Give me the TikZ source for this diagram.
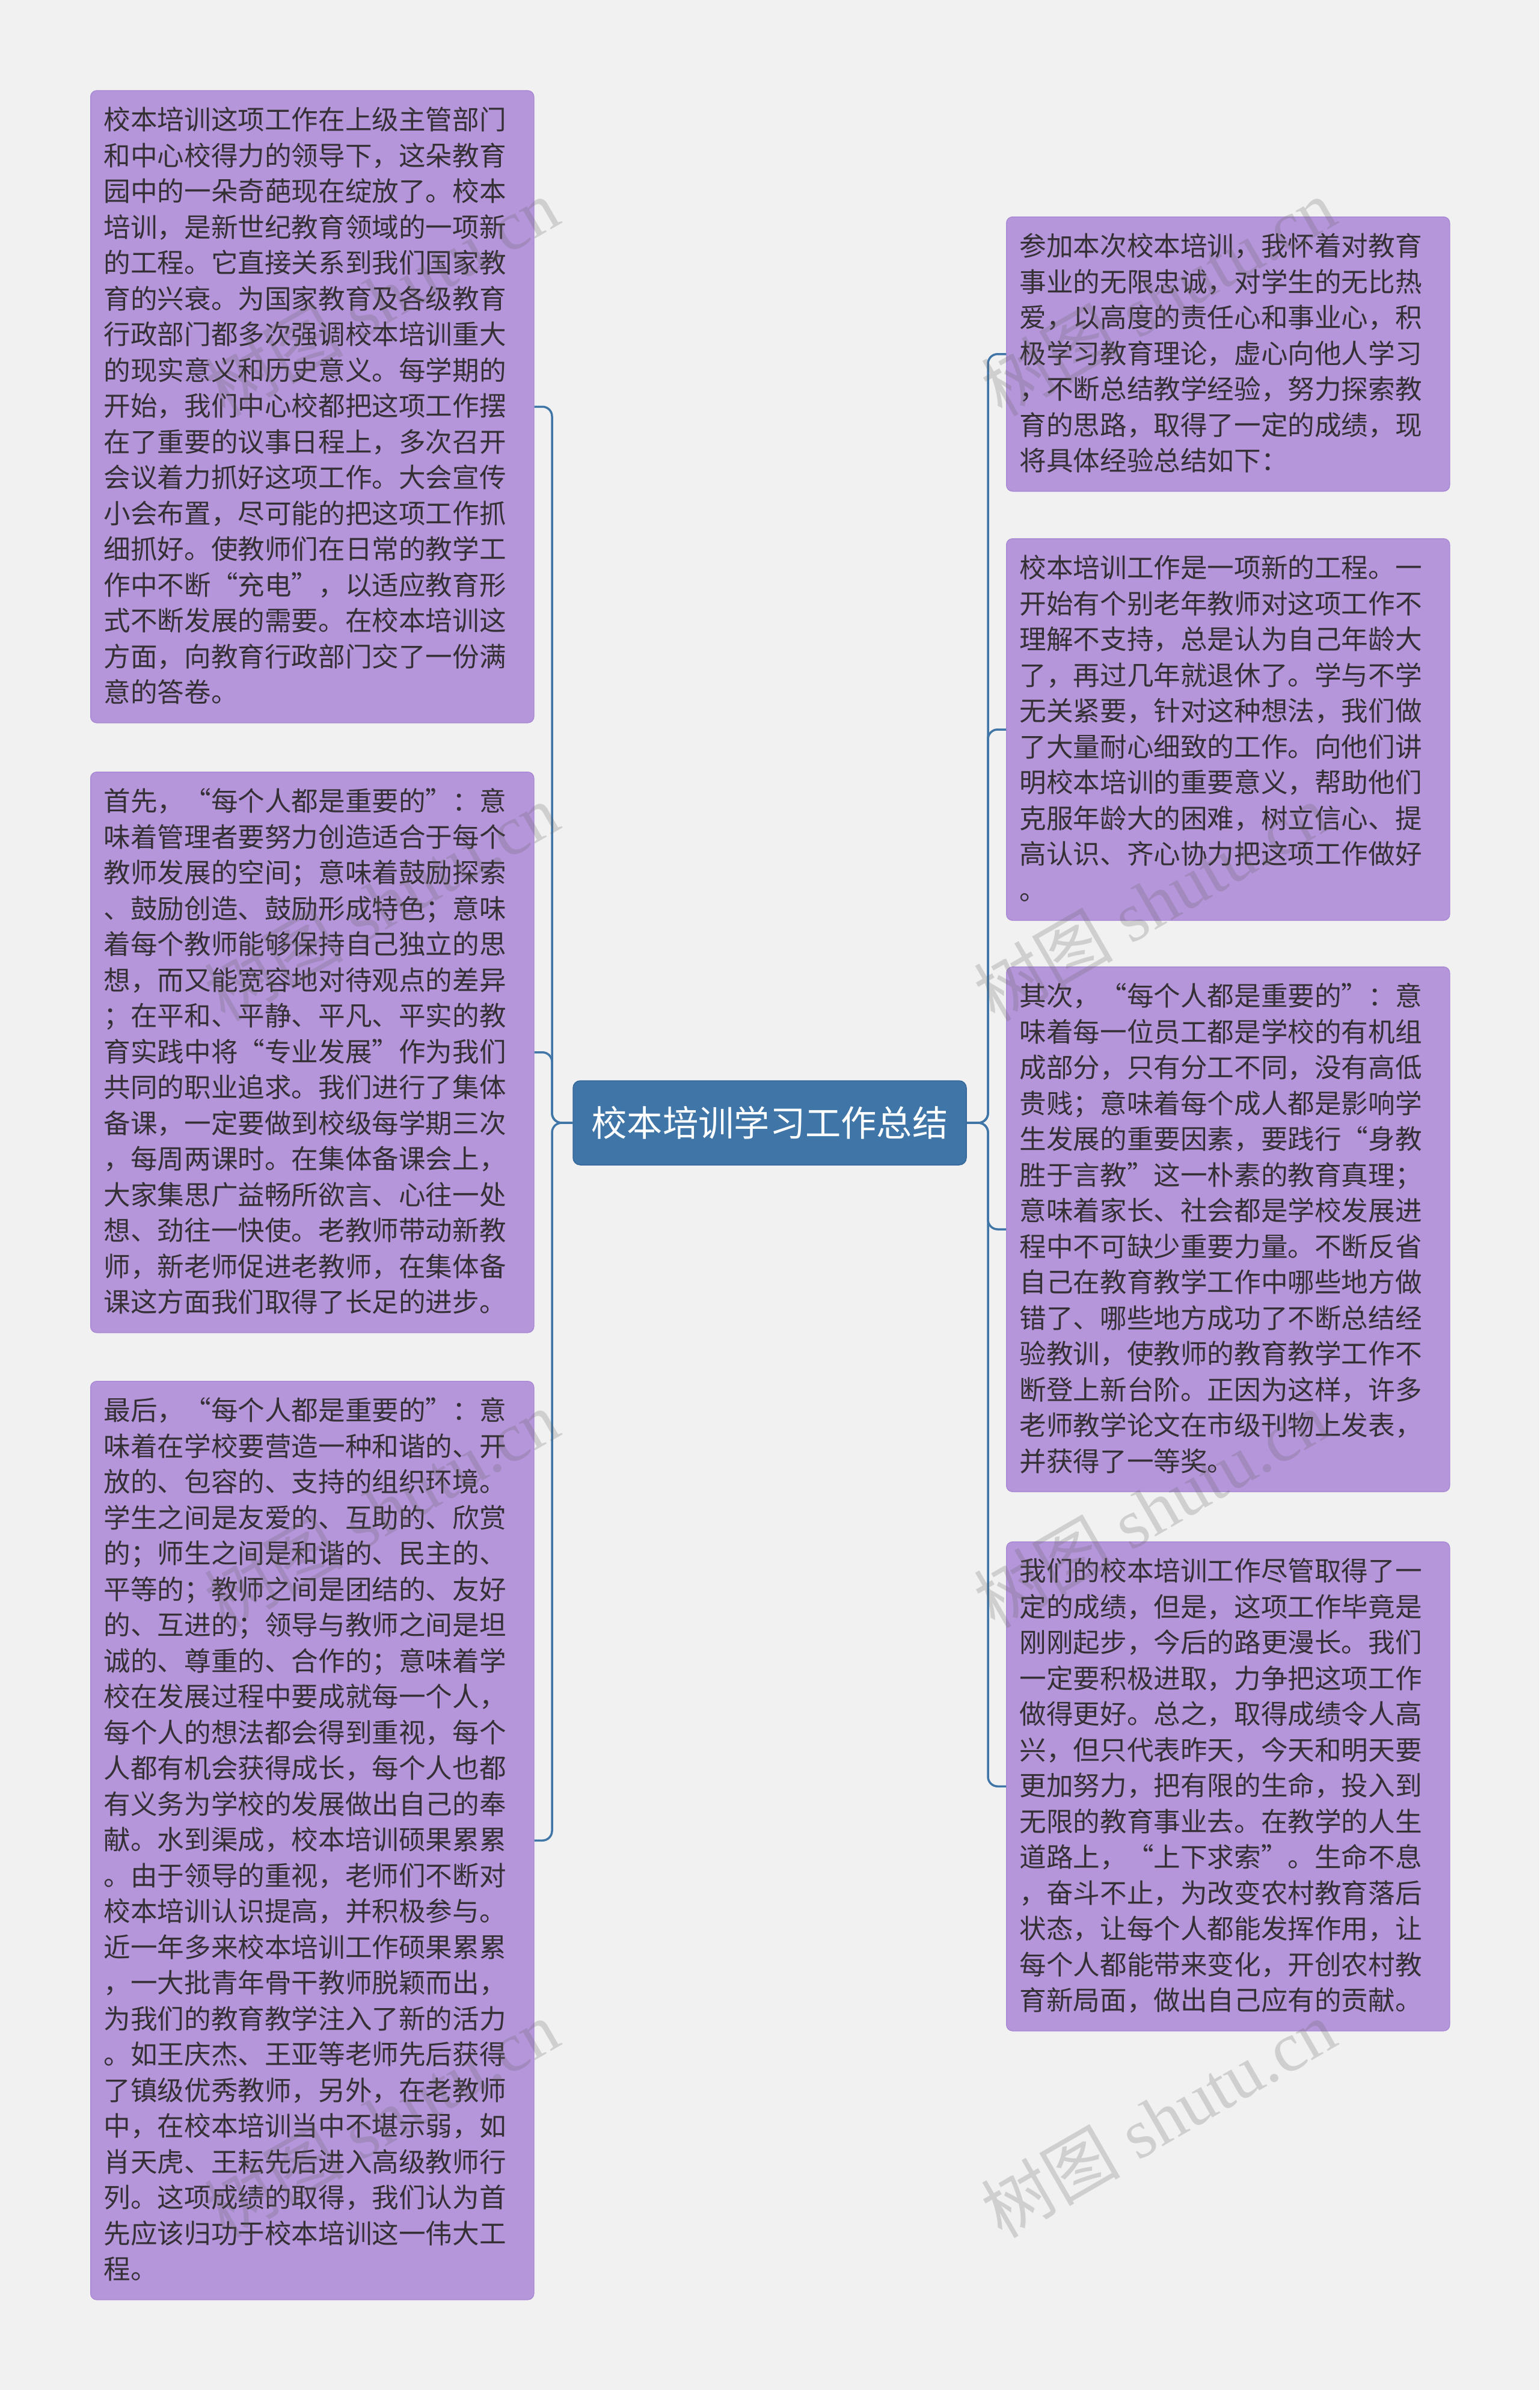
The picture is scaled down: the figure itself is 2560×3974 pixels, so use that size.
\documentclass[tikz,border=0pt]{standalone}
\usepackage{fontspec}
\setmainfont{Noto Sans CJK SC}
\newfontfamily\cjk{Noto Sans CJK SC}
\newfontfamily\wmserif{Liberation Serif}
\definecolor{bgc}{HTML}{F1F1F1}
\definecolor{leaffill}{HTML}{B696DB}
\definecolor{leafline}{HTML}{A98AD4}
\definecolor{rootfill}{HTML}{3F75A7}
\definecolor{rootline}{HTML}{36679A}
\definecolor{connc}{HTML}{3F75A7}
\definecolor{txt}{HTML}{353035}
\newcommand\leaffont{\cjk\fontsize{44.6pt}{59.5pt}\selectfont}
\newcommand\fs{\rule{0pt}{45pt}}
\newcommand\ls{\rule[-14pt]{0pt}{14pt}}
\begin{document}
\begin{tikzpicture}[x=1pt,y=-1pt,
  leaf/.style={draw=leafline, fill=leaffill, line width=1.5pt, rounded corners=10pt,
    inner xsep=22pt, inner ysep=20pt, text width=693pt, align=left,
    anchor=north west, text=txt, font=\leaffont},
  rootbox/.style={draw=rootline, fill=rootfill, line width=1.5pt, rounded corners=12pt,
    minimum width=654pt, minimum height=140pt, inner sep=0pt, text=white,
    font=\cjk\fontsize{59.3pt}{70pt}\selectfont},
  conn/.style={draw=connc, line width=3.5pt, rounded corners=16pt},
  wm/.style={rotate=30, text=black!60, opacity=0.24, font=\wmserif\fontsize{116pt}{124pt}\selectfont}]
\useasboundingbox (0,0) rectangle (2560,3974);
\fill[bgc] (0,0) rectangle (2560,3974);

\node[rootbox] (root) at (1280,1867) {校本培训学习工作总结};

\node[leaf] (l1) at (150,150) {\fs 校本培训这项工作在上级主管部门\\和中心校得力的领导下，这朵教育\\园中的一朵奇葩现在绽放了。校本\\培训，是新世纪教育领域的一项新\\的工程。它直接关系到我们国家教\\育的兴衰。为国家教育及各级教育\\行政部门都多次强调校本培训重大\\的现实意义和历史意义。每学期的\\开始，我们中心校都把这项工作摆\\在了重要的议事日程上，多次召开\\会议着力抓好这项工作。大会宣传\\小会布置，尽可能的把这项工作抓\\细抓好。使教师们在日常的教学工\\作中不断“充电”，以适应教育形\\式不断发展的需要。在校本培训这\\方面，向教育行政部门交了一份满\\意的答卷。\ls};

\node[leaf] (l2) at (150,1283) {\fs 首先，“每个人都是重要的”：意\\味着管理者要努力创造适合于每个\\教师发展的空间；意味着鼓励探索\\、鼓励创造、鼓励形成特色；意味\\着每个教师能够保持自己独立的思\\想，而又能宽容地对待观点的差异\\；在平和、平静、平凡、平实的教\\育实践中将“专业发展”作为我们\\共同的职业追求。我们进行了集体\\备课，一定要做到校级每学期三次\\，每周两课时。在集体备课会上，\\大家集思广益畅所欲言、心往一处\\想、劲往一快使。老教师带动新教\\师，新老师促进老教师，在集体备\\课这方面我们取得了长足的进步。\ls};

\node[leaf] (l3) at (150,2296) {\fs 最后，“每个人都是重要的”：意\\味着在学校要营造一种和谐的、开\\放的、包容的、支持的组织环境。\\学生之间是友爱的、互助的、欣赏\\的；师生之间是和谐的、民主的、\\平等的；教师之间是团结的、友好\\的、互进的；领导与教师之间是坦\\诚的、尊重的、合作的；意味着学\\校在发展过程中要成就每一个人，\\每个人的想法都会得到重视，每个\\人都有机会获得成长，每个人也都\\有义务为学校的发展做出自己的奉\\献。水到渠成，校本培训硕果累累\\。由于领导的重视，老师们不断对\\校本培训认识提高，并积极参与。\\近一年多来校本培训工作硕果累累\\，一大批青年骨干教师脱颖而出，\\为我们的教育教学注入了新的活力\\。如王庆杰、王亚等老师先后获得\\了镇级优秀教师，另外，在老教师\\中，在校本培训当中不堪示弱，如\\肖天虎、王耘先后进入高级教师行\\列。这项成绩的取得，我们认为首\\先应该归功于校本培训这一伟大工\\程。\ls};

\node[leaf] (r1) at (1673,360) {\fs 参加本次校本培训，我怀着对教育\\事业的无限忠诚，对学生的无比热\\爱，以高度的责任心和事业心，积\\极学习教育理论，虚心向他人学习\\，不断总结教学经验，努力探索教\\育的思路，取得了一定的成绩，现\\将具体经验总结如下：\ls};

\node[leaf] (r2) at (1673,895) {\fs 校本培训工作是一项新的工程。一\\开始有个别老年教师对这项工作不\\理解不支持，总是认为自己年龄大\\了，再过几年就退休了。学与不学\\无关紧要，针对这种想法，我们做\\了大量耐心细致的工作。向他们讲\\明校本培训的重要意义，帮助他们\\克服年龄大的困难，树立信心、提\\高认识、齐心协力把这项工作做好\\。\ls};

\node[leaf] (r3) at (1673,1607) {\fs 其次，“每个人都是重要的”：意\\味着每一位员工都是学校的有机组\\成部分，只有分工不同，没有高低\\贵贱；意味着每个成人都是影响学\\生发展的重要因素，要践行“身教\\胜于言教”这一朴素的教育真理；\\意味着家长、社会都是学校发展进\\程中不可缺少重要力量。不断反省\\自己在教育教学工作中哪些地方做\\错了、哪些地方成功了不断总结经\\验教训，使教师的教育教学工作不\\断登上新台阶。正因为这样，许多\\老师教学论文在市级刊物上发表，\\并获得了一等奖。\ls};

\node[leaf] (r4) at (1673,2563) {\fs 我们的校本培训工作尽管取得了一\\定的成绩，但是，这项工作毕竟是\\刚刚起步，今后的路更漫长。我们\\一定要积极进取，力争把这项工作\\做得更好。总之，取得成绩令人高\\兴，但只代表昨天，今天和明天要\\更加努力，把有限的生命，投入到\\无限的教育事业去。在教学的人生\\道路上，“上下求索”。生命不息\\，奋斗不止，为改变农村教育落后\\状态，让每个人都能发挥作用，让\\每个人都能带来变化，开创农村教\\育新局面，做出自己应有的贡献。\ls};

\coordinate (ljoin) at (918,1867);
\coordinate (rjoin) at (1643,1867);
\draw[conn] (root.west) -- (ljoin) |- (l1.east);
\draw[conn] (root.west) -- (ljoin) |- (l2.east);
\draw[conn] (root.west) -- (ljoin) |- (l3.east);
\draw[conn] (root.east) -- (rjoin) |- (r1.west);
\draw[conn] (root.east) -- (rjoin) |- (r2.west);
\draw[conn] (root.east) -- (rjoin) |- (r3.west);
\draw[conn] (root.east) -- (rjoin) |- (r4.west);

\node[wm] (w1) at (634,494) {{\cjk 树图} shutu.cn};
\node[wm] (w2) at (634,1500) {{\cjk 树图} shutu.cn};
\node[wm] (w3) at (634,2509) {{\cjk 树图} shutu.cn};
\node[wm] (w4) at (634,3523) {{\cjk 树图} shutu.cn};
\node[wm] (w5) at (1926,494) {{\cjk 树图} shutu.cn};
\node[wm] (w6) at (1914,1500) {{\cjk 树图} shutu.cn};
\node[wm] (w7) at (1914,2509) {{\cjk 树图} shutu.cn};
\node[wm] (w8) at (1926,3523) {{\cjk 树图} shutu.cn};
\end{tikzpicture}
\end{document}
